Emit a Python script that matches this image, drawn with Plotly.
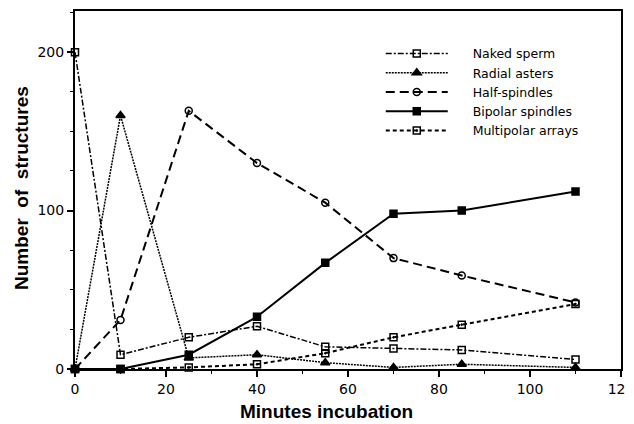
import plotly.graph_objects as go

minutes = [0, 10, 25, 40, 55, 70, 85, 110]
naked_sperm = [200, 9, 20, 27, 14, 13, 12, 6]
radial_asters = [0, 160, 7, 9, 4, 1, 3, 1]
half_spindles = [0, 31, 163, 130, 105, 70, 59, 42]
bipolar_spindles = [0, 0, 9, 33, 67, 98, 100, 112]
multipolar_arrays = [0, 0, 1, 3, 10, 20, 28, 41]

x_ticks = [0, 20, 40, 60, 80, 100, 120]
y_ticks = [0, 100, 200]

FONT = "Liberation Sans, Arial, Helvetica, sans-serif"
TICKFONT = "DejaVu Sans, sans-serif"
LEGFONT = "DejaVu Sans, sans-serif"

NB = "\u00a0" * 5
series = [
    ("Naked sperm", naked_sperm, "6px,2px,2px,2px", 1.5, "square-open", 7),
    ("Radial asters", radial_asters, "2px,1px", 1.5, "triangle-up", 8),
    ("Half-spindles", half_spindles, "9px,5px", 2, "circle-open", 7),
    ("Bipolar spindles", bipolar_spindles, "solid", 2, "square", 7),
    ("Multipolar arrays", multipolar_arrays, "4px,3px", 2, "square-open-dot", 7),
]

fig = go.Figure()
for name, vals, dash, width, sym, size in series:
    fig.add_trace(go.Scatter(
        x=minutes, y=vals, name=NB + name, mode="lines+markers",
        line=dict(color="black", dash=dash, width=width),
        marker=dict(symbol=sym, size=size, color="black", line=dict(color="black", width=1.5)),
        cliponaxis=False,
    ))

# page body has an 8px default margin, so the figure is sized to fit the window
fig.update_layout(
    width=626, height=416,
    margin=dict(l=67, r=13, t=3, b=55, autoexpand=False),
    paper_bgcolor="white", plot_bgcolor="white",
    font=dict(family=FONT, color="black", size=13),
    showlegend=True,
    legend=dict(
        x=0.56, y=0.922, xanchor="left", yanchor="top",
        bgcolor="rgba(0,0,0,0)", borderwidth=0,
        font=dict(family=LEGFONT, size=12.5, color="black"),
        itemwidth=62, tracegroupgap=0,
    ),
    annotations=[
        dict(text="<b>Minutes incubation</b>", xref="paper", yref="paper",
             x=0.4615, y=-0.120, xanchor="center", yanchor="middle",
             showarrow=False, font=dict(family=FONT, size=19, color="black")),
        dict(text="<b>Number  of  structures</b>", xref="paper", yref="paper",
             x=0, xshift=-53, y=0.5056, xanchor="center", yanchor="middle",
             textangle=-90, showarrow=False, font=dict(family=FONT, size=19, color="black")),
    ],
)

fig.update_xaxes(
    range=[0, 120], tickvals=x_ticks, ticktext=[str(v) for v in x_ticks],
    automargin=False, ticklabeloverflow="allow",
    showgrid=False, zeroline=False,
    showline=True, linecolor="black", linewidth=2, mirror=True,
    ticks="outside", ticklen=6, tickwidth=1.5, tickcolor="black",
    minor=dict(dtick=10, ticks="outside", ticklen=3, tickwidth=1, tickcolor="black"),
    tickfont=dict(family=TICKFONT, size=14),
)
fig.update_yaxes(
    range=[0, 226], tickvals=y_ticks, ticktext=[str(v) for v in y_ticks],
    automargin=False,
    showgrid=False, zeroline=False,
    showline=True, linecolor="black", linewidth=2, mirror=True,
    ticks="outside", ticklen=6, tickwidth=1.5, tickcolor="black",
    minor=dict(dtick=25, ticks="outside", ticklen=3, tickwidth=1, tickcolor="black"),
    tickfont=dict(family=TICKFONT, size=14),
)

fig.write_html("out.html")
